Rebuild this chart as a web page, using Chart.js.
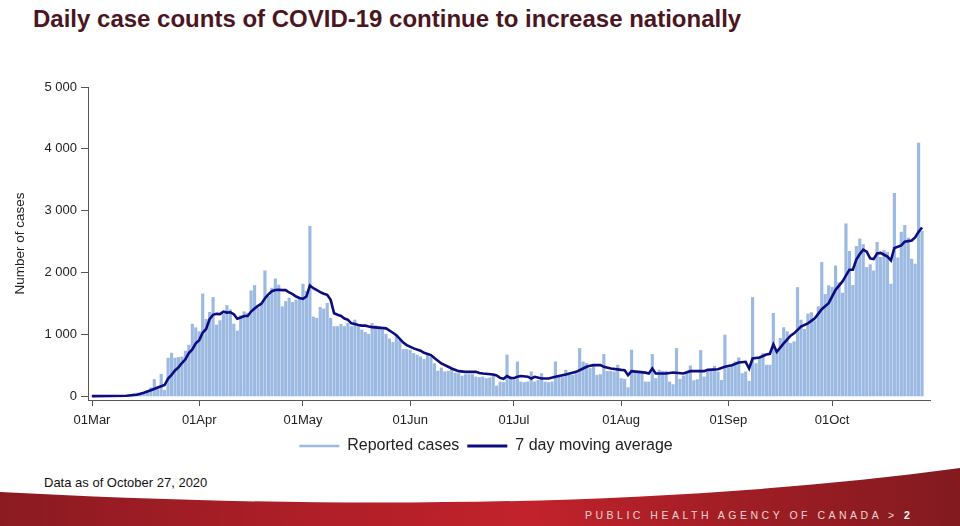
<!DOCTYPE html>
<html>
<head>
<meta charset="utf-8">
<script src="https://cdn.jsdelivr.net/npm/chart.js@4.4.1/dist/chart.umd.min.js"></script>
<style>
  html, body { margin: 0; padding: 0; background: #fff; }
  body { width: 960px; height: 526px; position: relative; overflow: hidden; font-family: "Liberation Sans", Arial, sans-serif; }
  #title { position: absolute; left: 33px; top: 7px; font-size: 24px; line-height: 24px; font-weight: bold; color: #4b1622; white-space: nowrap; }
  #wrap { position: absolute; left: 0; top: 60px; width: 960px; height: 404px; }
  #note { position: absolute; left: 44px; top: 476px; font-size: 13px; line-height: 13px; color: #111; }
  #band { position: absolute; left: 0; top: 0; }
  #agency { position: absolute; left: 585px; top: 510px; font-size: 10.5px; line-height: 10px; letter-spacing: 3.5px; color: #f1d6d6; white-space: nowrap; }
  #agency b { color: #fff; letter-spacing: 0; }
</style>
</head>
<body>
<svg id="band" width="960" height="526">
  <defs>
    <linearGradient id="red" x1="0" x2="1" y1="0" y2="0">
      <stop offset="0" stop-color="#8a1a21"/>
      <stop offset="0.3" stop-color="#ad1e27"/>
      <stop offset="0.55" stop-color="#c2222b"/>
      <stop offset="0.8" stop-color="#9c1d24"/>
      <stop offset="1" stop-color="#821a20"/>
    </linearGradient>
  </defs>
  <path d="M0,492 C300,508 650,510 960,468 L960,526 L0,526 Z" fill="url(#red)"/>
</svg>
<div id="title">Daily case counts of COVID-19 continue to increase nationally</div>
<div id="wrap"><canvas id="chart"></canvas></div>
<div id="note">Data as of October 27, 2020</div>
<div id="agency">PUBLIC HEALTH AGENCY OF CANADA &gt; <b>2</b></div>
<script>
/* Daily COVID-19 cases, Canada, 01 Mar – 27 Oct 2020 (day 0 = 01 Mar). */
const MONTH_TICKS = [0, 31, 61, 92, 122, 153, 184, 214];
const MONTH_LABELS = ["01Mar", "01Apr", "01May", "01Jun", "01Jul", "01Aug", "01Sep", "01Oct"];
const Y_TICKS = [0, 1000, 2000, 3000, 4000, 5000];

const reportedCases = [
  4, 3, 6, 3, 10, 8, 6, 12, 15, 14, 16, 30, 45, 56, 52,
  70, 90, 140, 275, 125, 360, 100, 620, 700, 620,
  630, 640, 733, 830, 1170, 1112, 1047, 1658, 1247, 1360,
  1600, 1155, 1225, 1328, 1470, 1400, 1170, 1058, 1306, 1370,
  1345, 1707, 1793, 1425, 1490, 2030, 1615, 1750, 1900, 1800,
  1450, 1535, 1590, 1520, 1560, 1600, 1815, 1700, 2750, 1285,
  1265, 1440, 1415, 1505, 1265, 1130, 1130, 1165, 1130, 1180,
  1130, 1235, 1130, 1075, 1035, 1005, 1180, 1145, 1130, 1075,
  1005, 930, 875, 990, 910, 760, 760, 750, 695, 670,
  640, 600, 680, 640, 530, 410, 460, 400, 410, 450,
  380, 370, 330, 355, 355, 355, 315, 305, 315, 290,
  300, 355, 170, 235, 225, 670, 315, 262, 560, 235,
  225, 235, 398, 235, 262, 370, 235, 225, 235, 560,
  317, 317, 425, 344, 344, 370, 776, 560, 533, 452,
  495, 344, 354, 680, 408, 408, 398, 506, 290, 279,
  143, 750, 408, 408, 370, 235, 235, 680, 290, 425,
  408, 408, 235, 192, 776, 279, 333, 370, 495, 257,
  273, 743, 317, 408, 425, 490, 398, 262, 993, 463,
  495, 560, 625, 370, 398, 246, 1599, 533, 614, 695,
  506, 506, 1345, 733, 939, 1112, 1047, 857, 885, 1760,
  1235, 1085, 1335, 1355, 1225, 1450, 2165, 1650, 1790, 1765,
  2110, 1840, 1670, 2790, 2345, 1795, 2425, 2545, 2455, 2085,
  2130, 2030, 2490, 2250, 2360, 2330, 1815, 3282, 2240, 2655,
  2765, 2560, 2220, 2140, 4095, 2670,
];

// 7-day moving average, read at its turning points
const avgDays = [
  0, 10, 13, 15, 17, 19, 21, 22, 23, 24, 25, 26, 27, 28, 29, 30, 31, 32, 33, 34,
  35, 36, 37, 38, 39, 40, 41, 42, 43, 44, 45, 46, 47, 48, 49, 50, 51, 52, 53, 54,
  55, 56, 57, 58, 59, 60, 61, 62, 63, 64, 65, 66, 67, 68, 69, 70, 71, 72, 73, 74,
  75, 76, 77, 78, 79, 80, 81, 85, 87, 88, 90, 91, 93, 95, 96, 98, 99, 101, 104, 106,
  108, 111, 112, 113, 116, 117, 118, 119, 120, 121, 122, 123, 124, 126, 127, 128, 130, 132, 134, 137,
  140, 142, 143, 144, 145, 147, 148, 150, 153, 154, 155, 156, 160, 161, 162, 163, 166, 168, 171, 173,
  177, 178, 181, 183, 185, 187, 189, 190, 191, 193, 195, 196, 197, 198, 200, 202, 203, 205, 207, 209,
  211, 213, 215, 217, 219, 220, 221, 222, 223, 224, 225, 226, 227, 228, 229, 230, 231, 232, 233, 234,
  235, 236, 237, 238, 239, 240,
];
const avgCases = [
  5, 12, 28, 60, 100, 145, 185, 290, 350, 420, 470, 540, 600, 700, 760, 860, 910, 1030, 1090, 1250,
  1320, 1335, 1330, 1370, 1355, 1360, 1330, 1255, 1275, 1300, 1300, 1372, 1420, 1464, 1500, 1588, 1650, 1700, 1720, 1723,
  1718, 1718, 1680, 1653, 1615, 1590, 1577, 1615, 1794, 1750, 1720, 1686, 1660, 1642, 1561, 1345, 1320, 1300, 1260, 1237,
  1182, 1170, 1155, 1145, 1144, 1130, 1120, 1100, 1030, 990, 870, 830, 777, 740, 706, 668, 620, 533, 452, 409,
  398, 398, 380, 370, 354, 340, 300, 285, 330, 300, 295, 320, 330, 320, 290, 317, 290, 290, 317, 354,
  398, 452, 480, 495, 506, 506, 478, 452, 430, 425, 344, 408, 385, 371, 450, 371, 371, 387, 371, 409,
  409, 430, 441, 479, 506, 549, 560, 452, 614, 630, 679, 690, 841, 722, 857, 981, 1020, 1128, 1182, 1264,
  1410, 1507, 1723, 1859, 2048, 2048, 2210, 2300, 2370, 2340, 2230, 2220, 2310, 2320, 2290, 2260, 2200, 2400, 2420, 2440,
  2500, 2510, 2520, 2570, 2660, 2730,
];

const COL = { bar: "#9cb9e2", avg: "#0d0d80", axis: "#555", text: "#222" };
const spaced = (v) => String(v).replace(/\B(?=(\d{3})+(?!\d))/g, " ");

Chart.defaults.font.family = "'Liberation Sans', Arial, sans-serif";
Chart.defaults.color = COL.text;

// nudge the legend to sit where the original puts it
const shiftLegend = {
  id: "shiftLegend",
  afterLayout(c) { if (c.legend) { c.legend.left += 21; c.legend.right += 21; } },
};

new Chart(document.getElementById("chart"), {
  type: "bar",
  data: {
    datasets: [
      {
        label: "Reported cases",
        data: reportedCases.map((v, i) => ({ x: i, y: v })),
        backgroundColor: COL.bar, borderWidth: 0, barThickness: 2.5, order: 1,
      },
      {
        type: "line", label: "7 day moving average",
        data: avgDays.map((d, i) => ({ x: d, y: avgCases[i] })),
        borderColor: COL.avg, backgroundColor: COL.avg, borderWidth: 2.6,
        pointRadius: 0, tension: 0, order: 0,
      },
    ],
  },
  options: {
    responsive: true, maintainAspectRatio: false, animation: false,
    layout: { padding: { top: 27, right: 30, left: 0, bottom: 0 } },
    plugins: {
      tooltip: { enabled: false },
      legend: {
        position: "bottom",
        labels: {
          usePointStyle: true, pointStyleWidth: 40, padding: 8,
          color: COL.text, font: { size: 16 },
          sort: (a, b) => a.datasetIndex - b.datasetIndex,
          generateLabels: (chart) => Chart.defaults.plugins.legend.labels.generateLabels(chart).map((l) => ({
            ...l, pointStyle: "line",
            strokeStyle: l.datasetIndex === 0 ? COL.bar : COL.avg,
            lineWidth: l.datasetIndex === 0 ? 2.5 : 3,
          })),
        },
      },
    },
    scales: {
      x: {
        type: "linear", min: -1.16, max: 242.3, offset: false,
        afterFit: (s) => { s.height = 30; },
        afterBuildTicks: (s) => { s.ticks = MONTH_TICKS.map((v) => ({ value: v })); },
        border: { display: true, color: COL.axis, width: 1 },
        grid: { display: true, offset: false, drawOnChartArea: false, drawTicks: true, tickLength: 6, color: COL.axis },
        ticks: {
          padding: 7, maxRotation: 0, autoSkip: false, color: COL.text, font: { size: 13 },
          callback: (v) => MONTH_LABELS[MONTH_TICKS.indexOf(v)],
        },
      },
      y: {
        min: -57, max: 5000,
        afterFit: (s) => { s.width = 88; },
        afterBuildTicks: (s) => { s.ticks = Y_TICKS.map((v) => ({ value: v })); },
        border: { display: true, color: COL.axis, width: 1 },
        grid: { display: true, drawOnChartArea: false, drawTicks: true, tickLength: 7, color: COL.axis },
        ticks: { padding: 4, color: COL.text, font: { size: 13 }, callback: (v) => spaced(v) },
        title: {
          display: true, text: "Number of cases", color: COL.text,
          font: { size: 13.5 }, padding: { top: 12, bottom: 0 },
        },
      },
    },
  },
  plugins: [shiftLegend],
});
</script>
</body>
</html>
